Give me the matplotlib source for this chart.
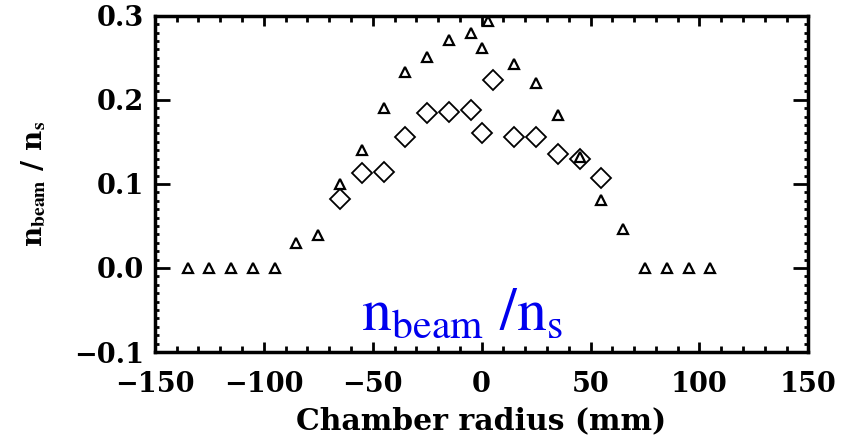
import matplotlib.pyplot as plt
from matplotlib.ticker import MultipleLocator

# triangles (full profile)
tri_r = [-135, -125, -115, -105, -95, -85, -75, -65, -55, -45, -35, -25, -15, -5,
         0, 3, 15, 25, 35, 45, 55, 65, 75, 85, 95, 105]
tri_n = [0.0, 0.0, 0.0, 0.0, 0.0, 0.030, 0.039, 0.100, 0.140, 0.190, 0.233, 0.251,
         0.271, 0.279, 0.262, 0.294, 0.243, 0.220, 0.182, 0.132, 0.081, 0.046,
         0.0, 0.0, 0.0, 0.0]

# diamonds
dia_r = [-65, -55, -45, -35, -25, -15, -5, 0, 5, 15, 25, 35, 45, 55]
dia_n = [0.082, 0.113, 0.114, 0.156, 0.184, 0.186, 0.188, 0.161, 0.224,
         0.156, 0.156, 0.136, 0.130, 0.107]

plt.rcParams['mathtext.fontset'] = 'stix'
tick_font = {'family': 'DejaVu Serif', 'weight': 'bold'}

fig = plt.figure(figsize=(8.42, 4.4), dpi=100)
ax = fig.add_axes([0.184, 0.2, 0.776, 0.764])

ax.plot(tri_r, tri_n, linestyle='none', marker='^', markersize=7,
        markerfacecolor='white', markeredgecolor='black', markeredgewidth=1.6)
ax.plot(dia_r, dia_n, linestyle='none', marker='D', markersize=10.5,
        markerfacecolor='none', markeredgecolor='black', markeredgewidth=1.3)

ax.set_xlim(-150, 150)
ax.set_ylim(-0.1, 0.3)
ax.xaxis.set_major_locator(MultipleLocator(50))
ax.xaxis.set_minor_locator(MultipleLocator(10))
ax.yaxis.set_major_locator(MultipleLocator(0.1))
ax.yaxis.set_minor_locator(MultipleLocator(0.01))
ax.yaxis.set_major_formatter(plt.FuncFormatter(lambda v, p: f"{v:.1f}".replace('-', '\u2212')))
ax.xaxis.set_major_formatter(plt.FuncFormatter(lambda v, p: f"{v:.0f}".replace('-', '\u2212')))

ax.tick_params(which='both', direction='in', top=True, right=True, width=2, color='black')
ax.tick_params(axis='x', which='major', length=7, pad=14)
ax.tick_params(axis='x', which='minor', length=4)
ax.tick_params(axis='y', which='major', length=11, pad=8)
ax.tick_params(axis='y', which='minor', length=3)
for sp in ax.spines.values():
    sp.set_linewidth(2.5)

for lab in ax.get_xticklabels() + ax.get_yticklabels():
    lab.set_fontproperties(tick_font)
    lab.set_fontsize(19.5)

ax.set_xlabel('Chamber radius (mm)', fontdict=tick_font, fontsize=21.5, labelpad=6)
ax.set_ylabel(r'n$_{\mathbf{beam}}$ / n$_\mathbf{s}$', fontdict=tick_font, fontsize=20, labelpad=18)

ax.text(0.47, 0.067, r'$\mathrm{n_{beam}\ /n_s}$', transform=ax.transAxes,
        color='#0000ee', fontsize=43, ha='center', va='baseline')

fig.savefig('out.png', dpi=100)
